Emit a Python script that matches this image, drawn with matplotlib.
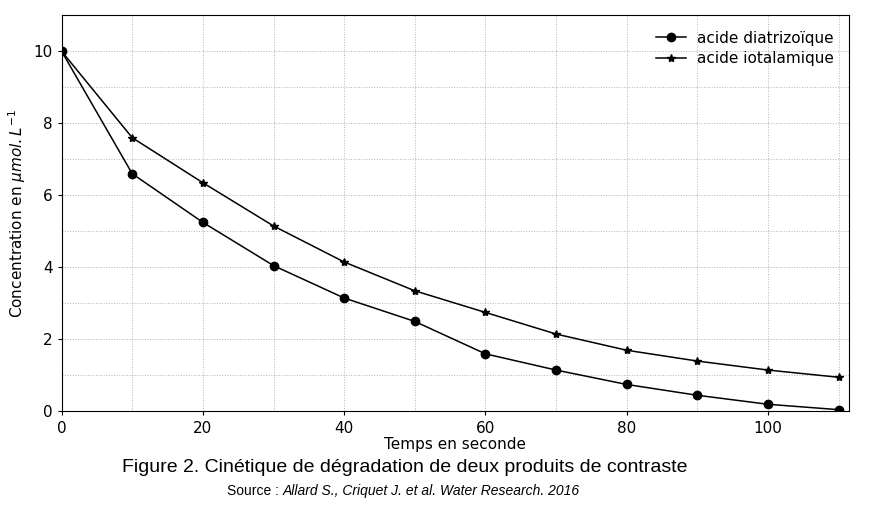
import numpy as np
from matplotlib import pyplot as plt
from matplotlib.ticker import MultipleLocator

temps = [0, 10, 20, 30, 40, 50, 60, 70, 80, 90, 100, 110]
diatrizoique = [10, 6.6, 5.25, 4.05, 3.15, 2.5, 1.6, 1.15, 0.75, 0.45, 0.2, 0.05]
iotalamique = [10, 7.6, 6.35, 5.15, 4.15, 3.35, 2.75, 2.15, 1.7, 1.4, 1.15, 0.95]

fig = plt.figure(figsize=(8.8, 5.08), dpi=100)
ax = fig.add_axes([0.07, 0.19, 0.895, 0.78])

ax.plot(temps, diatrizoique, color='black', marker='o', markersize=6, linewidth=1.1, label='acide diatrizoïque')
ax.plot(temps, iotalamique, color='black', marker='*', markersize=6, linewidth=1.1, label='acide iotalamique')

ax.set_xlim(0, 111.5)
ax.set_ylim(0, 11)
ax.xaxis.set_major_locator(MultipleLocator(20))
ax.xaxis.set_minor_locator(MultipleLocator(10))
ax.yaxis.set_major_locator(MultipleLocator(2))
ax.yaxis.set_minor_locator(MultipleLocator(1))
ax.tick_params(which='minor', length=0)
ax.tick_params(which='major', labelsize=11, length=3)
ax.grid(True, which='both', color='grey', linestyle=':', linewidth=0.7, alpha=0.6)

ax.set_xlabel('Temps en seconde', fontsize=11, labelpad=1)
ax.set_ylabel(r'Concentration en $\mu mol.L^{-1}$', fontsize=11)
ax.legend(loc='upper right', frameon=False, fontsize=11, handlelength=2,
          borderaxespad=0.6, labelspacing=0.35, handletextpad=0.7)

fig.text(0.46, 0.07, 'Figure 2. Cinétique de dégradation de deux produits de contraste',
         ha='center', fontsize=14, family='Liberation Sans')
fig.text(0.321, 0.025, 'Source : ', ha='right', fontsize=10, family='Liberation Sans')
fig.text(0.321, 0.025, 'Allard S., Criquet J. et al. Water Research. 2016',
         ha='left', fontsize=10, family='Liberation Sans', style='italic')

plt.savefig('out.png', dpi=100)
